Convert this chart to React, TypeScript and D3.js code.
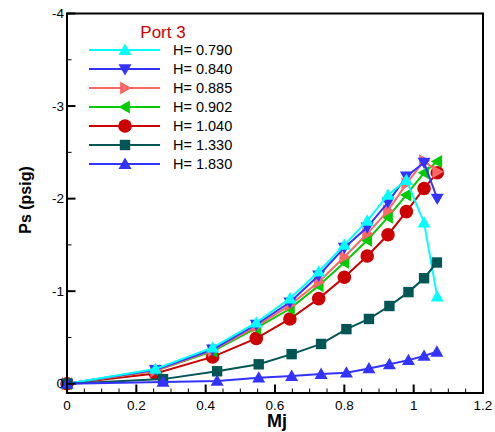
import React from "react";
import * as d3 from "d3";

const W = 495;
const H = 432;

const seriesNames = ["H= 0.790", "H= 0.840", "H= 0.885", "H= 0.902", "H= 1.040", "H= 1.330", "H= 1.830"];
const colors = ["#00ffff", "#3333ff", "#ff6666", "#00cc00", "#cc0000", "#005555", "#3333ff"];
const shapes = ["triUp", "triDown", "triRight", "triLeft", "circle", "square", "triUp"];

const xUpper = [0, 0.255, 0.42, 0.546, 0.643, 0.726, 0.8, 0.866, 0.926, 0.979, 1.03, 1.068];
const xLower = [0, 0.277, 0.433, 0.553, 0.648, 0.733, 0.806, 0.871, 0.93, 0.985, 1.03, 1.067];

const ps0790 = [0, -0.16, -0.39, -0.66, -0.92, -1.21, -1.5, -1.76, -2.04, -2.2, -1.74, -0.94];
const ps0840 = [0, -0.15, -0.37, -0.64, -0.88, -1.17, -1.47, -1.69, -1.96, -2.24, -2.39, -2.0];
const ps0885 = [0, -0.14, -0.36, -0.62, -0.85, -1.1, -1.37, -1.62, -1.87, -2.16, -2.41, -2.29];
const ps0902 = [0, -0.14, -0.35, -0.6, -0.81, -1.06, -1.31, -1.55, -1.8, -2.04, -2.28, -2.4];
const ps1040 = [0, -0.11, -0.29, -0.49, -0.7, -0.92, -1.15, -1.38, -1.61, -1.86, -2.11, -2.28];
const ps1330 = [0, -0.05, -0.135, -0.21, -0.32, -0.43, -0.59, -0.7, -0.84, -0.99, -1.14, -1.31];
const ps1830 = [0, -0.02, -0.03, -0.065, -0.083, -0.105, -0.12, -0.165, -0.21, -0.255, -0.3, -0.345];

const seriesX = [xUpper, xUpper, xUpper, xUpper, xUpper, xLower, xLower];
const seriesY = [ps0790, ps0840, ps0885, ps0902, ps1040, ps1330, ps1830];

const xTicks = [0, 0.2, 0.4, 0.6, 0.8, 1, 1.2];
const yTicks = [0, -1, -2, -3, -4];

const left = 67, right = 483, top = 13.5, bottom = 393;

function Marker({ shape, x, y, color }: { shape: string; x: number; y: number; color: string }) {
  const s = 6.5;
  let d = "";
  if (shape === "circle") return <circle cx={x} cy={y} r={6.8} fill={color} />;
  if (shape === "square") return <rect x={x - 5.2} y={y - 5.2} width={10.4} height={10.4} fill={color} />;
  if (shape === "triUp") d = `M${x},${y - s}L${x + s},${y + s * 0.75}L${x - s},${y + s * 0.75}Z`;
  if (shape === "triDown") d = `M${x},${y + s}L${x + s},${y - s * 0.75}L${x - s},${y - s * 0.75}Z`;
  if (shape === "triRight") d = `M${x + s},${y}L${x - s * 0.75},${y - s}L${x - s * 0.75},${y + s}Z`;
  if (shape === "triLeft") d = `M${x - s},${y}L${x + s * 0.75},${y - s}L${x + s * 0.75},${y + s}Z`;
  return <path d={d} fill={color} />;
}

export default function App() {
  const x = d3.scaleLinear().domain([0, 1.2]).range([left, right]);
  const y = d3.scaleLinear().domain([0.1, -4]).range([bottom, top]);
  const line = d3.line<[number, number]>().x((d) => x(d[0])).y((d) => y(d[1]));
  const xMinor = d3.range(0, 1.2001, 0.05);
  const yMinor = d3.range(0, -4.001, -0.5);
  const font = "Liberation Sans, Arial, sans-serif";
  const order = [4, 3, 2, 1, 0, 5, 6];
  return (
    <svg width={W} height={H} style={{ position: "absolute", left: 0, top: 0, background: "#fff" }}>
      <rect x={0} y={0} width={W} height={H} fill="#fff" />
      {order.map((i) => {
        const pts: [number, number][] = seriesX[i].map((xv, k) => [xv, seriesY[i][k]]);
        return (
          <g key={i}>
            <path d={line(pts) || ""} fill="none" stroke={colors[i]} strokeWidth={2} />
            {pts.map((p, k) => (
              <Marker key={k} shape={shapes[i]} x={x(p[0])} y={y(p[1])} color={colors[i]} />
            ))}
          </g>
        );
      })}
      <rect x={left} y={top} width={right - left} height={bottom - top} fill="none" stroke="#000" strokeWidth={2} />
      {xMinor.map((t, i) => (
        <line key={"xm" + i} x1={x(t)} x2={x(t)} y1={bottom} y2={bottom - 4.5} stroke="#000" strokeWidth={1} />
      ))}
      {xTicks.map((t, i) => (
        <g key={"x" + i}>
          <line x1={x(t)} x2={x(t)} y1={bottom} y2={bottom - 8.5} stroke="#000" strokeWidth={2} />
          <text x={x(t)} y={bottom + 7} fontFamily={font} fontSize={13.5} textAnchor="middle" dominantBaseline="hanging">
            {String(t)}
          </text>
        </g>
      ))}
      {yMinor.map((t, i) => (
        <line key={"ym" + i} x1={left} x2={left + 4.5} y1={y(t)} y2={y(t)} stroke="#000" strokeWidth={1} />
      ))}
      {yTicks.map((t, i) => (
        <g key={"y" + i}>
          <line x1={left} x2={left + 8.5} y1={y(t)} y2={y(t)} stroke="#000" strokeWidth={2} />
          <text x={left - 3} y={y(t)} fontFamily={font} fontSize={13.5} textAnchor="end" dominantBaseline="central">
            {String(t)}
          </text>
        </g>
      ))}
      <text x={(left + right) / 2 + 2} y={427} fontFamily={font} fontSize={18} fontWeight="bold" textAnchor="middle">
        Mj
      </text>
      <text
        transform={`translate(25, 200) rotate(-90)`}
        fontFamily={font}
        fontSize={16}
        fontWeight="bold"
        textAnchor="middle"
        dominantBaseline="central"
      >
        Ps (psig)
      </text>
      <text x={163} y={32} fontFamily={font} fontSize={17} fill="#cc0000" textAnchor="middle" dominantBaseline="central">
        Port 3
      </text>
      {seriesNames.map((n, i) => {
        const ly = 50 + i * 19;
        return (
          <g key={"lg" + i}>
            <line x1={89} x2={160} y1={ly} y2={ly} stroke={colors[i]} strokeWidth={2} />
            <Marker shape={shapes[i]} x={125} y={ly} color={colors[i]} />
            <text x={173} y={ly} fontFamily={font} fontSize={14.5} dominantBaseline="central">
              {n}
            </text>
          </g>
        );
      })}
    </svg>
  );
}
